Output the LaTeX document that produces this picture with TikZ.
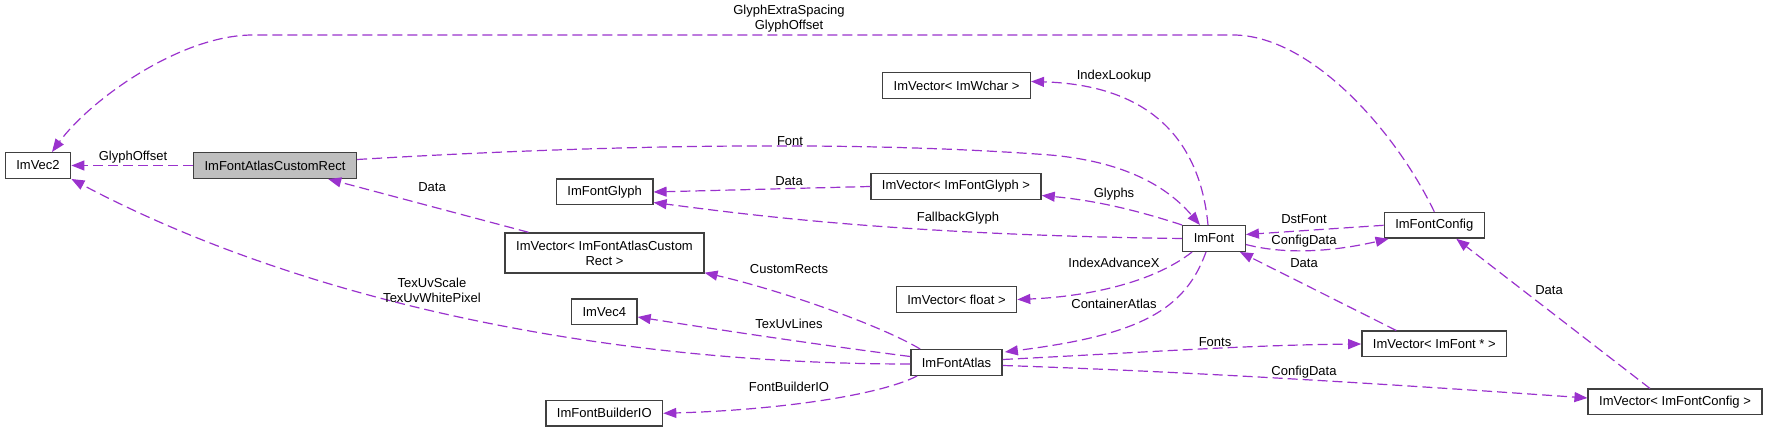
\documentclass[tikz,border=0pt]{standalone}
\usepackage{fontspec}
\setmainfont{Liberation Sans}
\usepackage{tikz}
\usetikzlibrary{arrows.meta, calc}
\definecolor{orchid}{RGB}{154,50,205}
\definecolor{boxline}{RGB}{64,64,64}
\definecolor{boxgray}{RGB}{191,191,191}

\begin{document}
\begin{tikzpicture}[x=0.5pt, y=-0.5pt, >={Triangle[length=6.5pt,width=5pt]}, font=\fontsize{6.5}{7.4}\selectfont]
  \tikzstyle{cls} = [rectangle, draw=boxline, fill=white, line width=0.7pt, inner xsep=5.5pt, inner ysep=0pt, minimum height=12.8pt]
  \tikzstyle{current} = [cls, fill=boxgray]
  \tikzstyle{uses} = [->, draw=orchid, line width=0.6pt, dash pattern=on 5pt off 2.5pt]
  \tikzstyle{lbl} = [inner sep=0pt, align=center]

  \useasboundingbox (0,0) rectangle (1768,432);

  % Column 1
  \node [cls] (imvec2) at (38,165.5) {ImVec2};
  \node [current] (custrect) at (275,165.5) {ImFontAtlasCustomRect};

  % Column 2
  \node [cls] (glyph) at (604.7,192) {ImFontGlyph};
  \node [cls, align=center, minimum height=20pt] (vecrect) at (604.5,253) {ImVector< ImFontAtlasCustom\\Rect >};
  \node [cls] (imvec4) at (604.3,312) {ImVec4};
  \node [cls] (builderio) at (604.3,413.3) {ImFontBuilderIO};

  % Column 3
  \node [cls] (vecwchar) at (956.5,85.5) {ImVector< ImWchar >};
  \node [cls] (vecglyph) at (956,186.5) {ImVector< ImFontGlyph >};
  \node [cls] (vecfloat) at (956.5,299.5) {ImVector< float >};
  \node [cls] (atlas) at (956.5,362.5) {ImFontAtlas};

  % Column 4 and 5
  \node [cls] (imfont) at (1214,238.5) {ImFont};
  \node [cls] (config) at (1434.3,225.3) {ImFontConfig};
  \node [cls] (vecfontp) at (1434.3,344) {ImVector< ImFont * >};
  \node [cls] (vecconfig) at (1675,402) {ImVector< ImFontConfig >};

  % Edges into ImVec2
  \draw [uses] (custrect.west) -- (imvec2.east);
  \draw [uses] (config.north) .. controls (1395,130) and (1310,35) .. (1233,35) -- (253,35) .. controls (180,35) and (90,100) .. ($(imvec2.north)+(14,0)$);
  \draw [uses] ($(atlas.west)+(0,1.5)$) .. controls (600,364) and (300,300) .. (imvec2.south east);

  % Edges from ImFont
  \draw [uses] ($(custrect.east)+(0,-6)$) .. controls (600,145) and (850,140) .. (1050,155) .. controls (1130,162) and (1170,190) .. ($(imfont.north)+(-14,0)$);
  \draw [uses] (imfont.west) .. controls (900,235) and (750,215) .. ($(glyph.south east)+(0,-3)$);
  \draw [uses] ($(imfont.north)+(-6,0)$) .. controls (1200,140) and (1150,85) .. ($(vecwchar.east)+(0,-4)$);
  \draw [uses] (imfont.north west) .. controls (1130,208) and (1090,200) .. ($(vecglyph.east)+(0,9)$);
  \draw [uses] ($(imfont.south west)+(10,0)$) .. controls (1150,285) and (1080,297) .. (vecfloat.east);
  \draw [uses] ($(imfont.south)+(-8,0)$) .. controls (1185,310) and (1140,335) .. ($(atlas.north east)+(2,3)$);
  \draw [uses] ($(imfont.east)+(0,6)$) .. controls (1290,256) and (1340,250) .. ($(config.south west)+(5,0)$);

  % Edges into ImFont
  \draw [uses] (config.west) -- ($(imfont.east)+(0,-4)$);
  \draw [uses] ($(vecfontp.north)+(-38,0)$) -- ($(imfont.south east)+(-6,0)$);

  % Other vector edges
  \draw [uses] ($(vecrect.north west)+(24,0)$) -- ($(custrect.south east)+(-29,0)$);
  \draw [uses] (vecglyph.west) -- (glyph.east);
  \draw [uses] ($(vecconfig.north)+(-25,0)$) -- ($(config.south)+(22,0)$);

  % Edges from ImFontAtlas
  \draw [uses] ($(atlas.north west)+(10,0)$) .. controls (880,325) and (780,290) .. ($(vecrect.south east)+(0,-1)$);
  \draw [uses] ($(atlas.west)+(0,-6)$) .. controls (820,345) and (720,330) .. ($(imvec4.east)+(0,5)$);
  \draw [uses] ($(atlas.south west)+(7,0)$) .. controls (880,395) and (780,410) .. (builderio.east);
  \draw [uses] ($(atlas.east)+(0,-3)$) .. controls (1150,352) and (1250,345) .. (vecfontp.west);
  \draw [uses] ($(atlas.east)+(0,3)$) .. controls (1200,372) and (1400,385) .. ($(vecconfig.west)+(0,-4)$);

  % Labels
  \node [lbl] (lGlyphOffset) at (133,157) {GlyphOffset};
  \node [lbl] (lExtra) at (789,19) {GlyphExtraSpacing\\GlyphOffset};
  \node [lbl] (lRectData) at (432,187) {Data};
  \node [lbl] (lTexUv) at (432,290) {TexUvScale\\TexUvWhitePixel};
  \node [lbl] (lFont) at (790,141) {Font};
  \node [lbl] (lGlyphData) at (789,181) {Data};
  \node [lbl] (lFallback) at (958,218) {FallbackGlyph};
  \node [lbl] (lLookup) at (1114,76) {IndexLookup};
  \node [lbl] (lGlyphs) at (1114,194) {Glyphs};
  \node [lbl] (lDstFont) at (1304,219) {DstFont};
  \node [lbl] (lConfigData) at (1304,241) {ConfigData};
  \node [lbl] (lFontData) at (1304,263) {Data};
  \node [lbl] (lAdvance) at (1114,263) {IndexAdvanceX};
  \node [lbl] (lContainer) at (1114,304) {ContainerAtlas};
  \node [lbl] (lCustomRects) at (789,269) {CustomRects};
  \node [lbl] (lTexUvLines) at (789,324) {TexUvLines};
  \node [lbl] (lBuilderIO) at (789,387) {FontBuilderIO};
  \node [lbl] (lFonts) at (1215,342) {Fonts};
  \node [lbl] (lAtlasConfig) at (1304,372) {ConfigData};
  \node [lbl] (lConfigVec) at (1549,290) {Data};
\end{tikzpicture}
\end{document}
